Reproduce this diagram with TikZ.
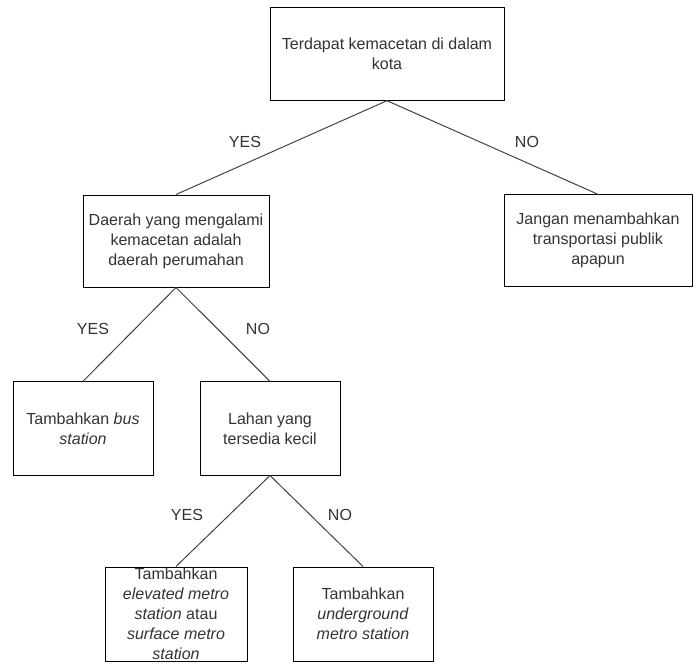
\documentclass[tikz,border=0pt]{standalone}
\usepackage{fontspec}
\setmainfont{Liberation Sans}
\usetikzlibrary{positioning}
\colorlet{colorBox}{black}
\colorlet{colorEdge}{black!75}
\colorlet{colorTxt}{black!80}
\tikzset{
   box/.style={draw=colorBox,line width=0.7pt,rectangle,inner sep=0pt,minimum height=2.33cm,text=colorTxt,align=center,font=\fontsize{11.4}{14.2}\selectfont},
   txt/.style={text=colorTxt,align=center,inner sep=0pt,font=\fontsize{11.4}{14.2}\selectfont},
   yn/.style={text=colorTxt,font=\fontsize{11.4}{14.2}\selectfont},
   br/.style={-,color=colorEdge,line width=0.7pt},
}
\begin{document}
\begin{tikzpicture}
      \useasboundingbox (0,0) rectangle (17.45,-16.6);
      \node[box,minimum width=5.85cm] (cong) at (9.675,-1.34) {Terdapat kemacetan di dalam\\kota};
      \node[box,minimum width=4.65cm,minimum height=2.3cm] (resid) at (4.4,-6.025) {Daerah yang mengalami\\kemacetan adalah\\daerah perumahan};
      \node[box,minimum width=4.7cm,minimum height=2.28cm] (none) at (14.95,-6.01) {Jangan menambahkan\\transportasi publik\\apapun};
      \node[box,minimum width=3.5cm] (bus) at (2.075,-10.71) {Tambahkan \textit{bus}\\\textit{station}};
      \node[box,minimum width=3.5cm] (land) at (6.75,-10.71) {Lahan yang\\tersedia kecil};
      \node[box,minimum width=3.55cm,minimum height=2.35cm] (elev) at (4.4,-15.35) {};
      \node[txt] (elevtxt) at (elev) {Tambahkan\\\textit{elevated metro}\\\textit{station} atau\\\textit{surface metro}\\\textit{station}};
      \node[box,minimum width=3.5cm,minimum height=2.35cm] (under) at (9.075,-15.35) {Tambahkan\\\textit{underground}\\\textit{metro station}};
      \node[yn] (yes1) at (6.125,-3.55) {YES};
      \node[yn] (no1) at (13.175,-3.55) {NO};
      \node[yn] (yes2) at (2.325,-8.225) {YES};
      \node[yn] (no2) at (6.45,-8.225) {NO};
      \node[yn] (yes3) at (4.675,-12.875) {YES};
      \node[yn] (no3) at (8.5,-12.875) {NO};
      \draw[br] (cong.south) -- (resid.north);
      \draw[br] (cong.south) -- (none.north);
      \draw[br] (resid.south) -- (bus.north);
      \draw[br] (resid.south) -- (land.north);
      \draw[br] (land.south) -- (elev.north);
      \draw[br] (land.south) -- (under.north);
    \end{tikzpicture}
\end{document}
